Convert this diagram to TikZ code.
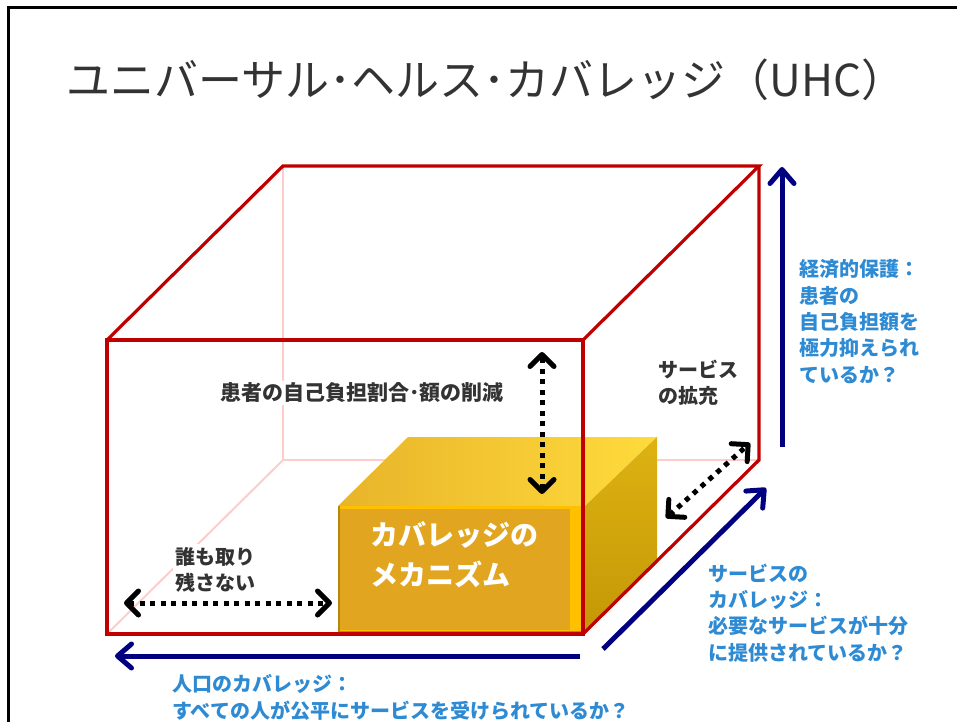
\documentclass[tikz,border=0pt]{standalone}
\usepackage{fontspec}
\newfontfamily\jp{Noto Sans CJK JP}
\usetikzlibrary{arrows.meta}
\definecolor{boxred}{HTML}{C00000}
\definecolor{hidpink}{HTML}{FFCCCC}
\definecolor{navyblue}{HTML}{000080}
\definecolor{lblue}{HTML}{2E8AD2}
\definecolor{dgray}{HTML}{333333}
\definecolor{goldtopL}{HTML}{E8B42A}
\definecolor{goldtopR}{HTML}{FFDB3C}
\definecolor{goldfront}{HTML}{E2A51F}
\definecolor{goldrim}{HTML}{FFC000}
\definecolor{goldsideT}{HTML}{DDB212}
\definecolor{goldsideB}{HTML}{C49806}
\definecolor{goldedge}{HTML}{B8860B}
\newcommand{\lns}[1]{\begin{tabular}[t]{@{}l@{}}#1\end{tabular}}
\begin{document}
\begin{tikzpicture}[x=1pt,y=-1pt,
  edgered/.style={draw=boxred, line width=3.2pt, line join=miter},
  hiddenedge/.style={draw=hidpink, line width=2pt},
  bluearrow/.style={draw=navyblue, line width=5pt,
    -{Straight Barb[length=14pt,width=24pt,round]}},
  dotarrow/.style={draw=black, line width=5pt, dash pattern=on 5pt off 5.5pt,
    {Straight Barb[length=12pt,width=24pt,round]}-{Straight Barb[length=12pt,width=24pt,round]}},
  titlelbl/.style={font=\jp\fontsize{44}{52}\selectfont, text=dgray, inner sep=0pt, anchor=base west},
  darklbl/.style={font=\jp\bfseries\fontsize{20}{26}\selectfont, text=dgray, inner sep=2pt, anchor=base west, fill=white},
  bluelbl/.style={font=\jp\bfseries\fontsize{20}{26.4}\selectfont, text=lblue, inner sep=0pt, anchor=base west},
  whitelbl/.style={font=\jp\bfseries\fontsize{28}{40}\selectfont, text=white, inner sep=0pt, anchor=base west}
]
\useasboundingbox (0,0) rectangle (957,722);
% frame
\draw[line width=3pt, black] (8,722) -- (8,8) -- (957,8);

% title
\node[titlelbl] (title) at (66,96.5) {ユニバーサル･ヘルス･カバレッジ（UHC）};

% box corners
\coordinate (FTL) at (107,340);
\coordinate (FTR) at (583,340);
\coordinate (FBR) at (583,634);
\coordinate (FBL) at (107,634);
\coordinate (BTL) at (283,166);
\coordinate (BTR) at (759,166);
\coordinate (BBR) at (759,460);
\coordinate (BBL) at (283,460);

% hidden edges
\draw[hiddenedge] (BTL) -- (BBL) -- (BBR);
\draw[hiddenedge] (BBL) -- (FBL);

% gold cuboid
\coordinate (GFTL) at (338,506);
\coordinate (GFTR) at (585,506);
\coordinate (GFBR) at (585,633);
\coordinate (GFBL) at (338,633);
\coordinate (GBTL) at (408,437);
\coordinate (GBTR) at (657,437);
\coordinate (GBBR) at (657,563);
\shade[left color=goldtopL, right color=goldtopR] (GFTL) -- (GBTL) -- (GBTR) -- (GFTR) -- cycle;
\shade[top color=goldsideT, bottom color=goldsideB] (GFTR) -- (GBTR) -- (GBBR) -- (GFBR) -- cycle;
\fill[goldrim] (GFTL) rectangle (GFBR);
\fill[goldfront] (340,509) rectangle (570,630);
\draw[goldedge, line width=1.5pt] (339,506) -- (339,632) -- (585,632);

\node[whitelbl] (mech) at (370,545.6) {\lns{カバレッジの\\メカニズム}};

% dark labels
\node[darklbl, font=\jp\bfseries\fontsize{21}{26}\selectfont] (cost) at (218,400.6) {患者の自己負担割合･額の削減};
\node[darklbl] (expand) at (656,377.6) {\lns{サービス\\の拡充}};
\node[darklbl] (noone) at (173,564.6) {\lns{誰も取り\\残さない}};

% red box
\draw[edgered] (FTL) rectangle (FBR);
\draw[edgered] (FTL) -- (BTL) -- (BTR) -- (FTR);
\draw[edgered] (BTR) -- (BBR) -- (FBR);

% dotted double arrows
\coordinate (dvT) at (542,352);
\coordinate (dvB) at (542,494);
\coordinate (dhL) at (124,603);
\coordinate (dhR) at (332,603);
\coordinate (ddL) at (666,518);
\coordinate (ddR) at (750,443);
\draw[dotarrow] (dvB) -- (dvT);
\draw[dotarrow] (dhL) -- (dhR);
\draw[dotarrow] (ddL) -- (ddR);

% blue arrows
\coordinate (bvS) at (782,447);
\coordinate (bvE) at (782,167);
\coordinate (bdS) at (603,649);
\coordinate (bdE) at (766,488);
\coordinate (bhS) at (580,656);
\coordinate (bhE) at (115,656);
\draw[bluearrow] (bvS) -- (bvE);
\draw[bluearrow] (bdS) -- (bdE);
\draw[bluearrow] (bhS) -- (bhE);

% blue labels
\node[bluelbl] (fin) at (799,276.6) {\lns{経済的保護：\\患者の\\自己負担額を\\極力抑えられ\\ているか？}};
\node[bluelbl] (serv) at (708,581) {\lns{サービスの\\カバレッジ：\\必要なサービスが十分\\に提供されているか？}};
\node[bluelbl] (pop) at (172,691.6) {\lns{人口のカバレッジ：\\すべての人が公平にサービスを受けられているか？}};
\end{tikzpicture}
\end{document}
